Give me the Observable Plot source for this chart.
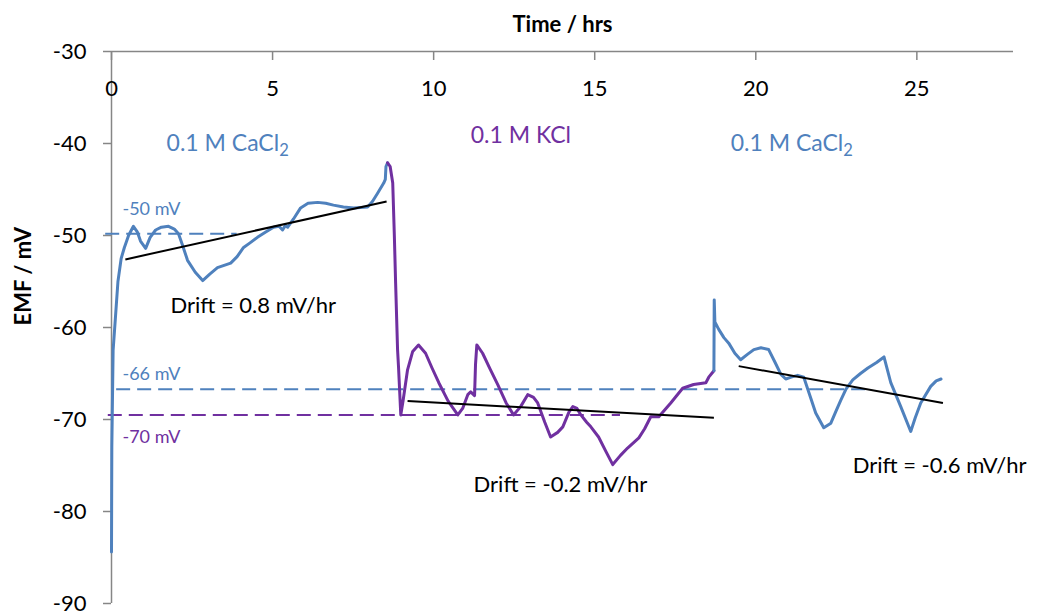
<!DOCTYPE html>
<html>
<head>
<meta charset="utf-8">
<script src="https://cdn.jsdelivr.net/npm/d3@7"></script>
<script src="https://cdn.jsdelivr.net/npm/@observablehq/plot@0.6"></script>
<style>
  html, body { margin: 0; padding: 0; background: #fff; }
  #chart svg { font-family: Lato, "Open Sans", sans-serif; }
</style>
</head>
<body>
<div id="chart"></div>
<script>
// ---- data ----
const xTicks = [0, 5, 10, 15, 20, 25];
const yTicks = [-30, -40, -50, -60, -70, -80, -90];

// 0.1 M CaCl2 (first period): [time hrs, EMF mV]
const cacl2First = [
  [0,-84.4],[0.01,-73],[0.05,-62.5],[0.12,-59],[0.2,-55],[0.3,-52.5],[0.4,-51.3],[0.53,-50],
  [0.68,-49],[0.8,-49.6],[0.9,-50.6],[1.06,-51.4],[1.2,-50.2],[1.37,-49.4],[1.55,-49.1],[1.77,-49],
  [1.95,-49.3],[2.08,-49.8],[2.2,-51],[2.36,-52.7],[2.6,-54],[2.83,-54.9],[3.05,-54.2],[3.29,-53.5],
  [3.7,-53],[3.9,-52.3],[4.1,-51.3],[4.3,-50.8],[4.53,-50.2],[4.8,-49.6],[5.03,-49.1],[5.2,-49],
  [5.31,-49.4],[5.4,-48.9],[5.47,-49.1],[5.65,-48.2],[5.87,-47],[6.1,-46.5],[6.4,-46.4],[6.65,-46.5],
  [6.89,-46.7],[7.2,-46.9],[7.52,-47],[7.95,-46.9],[8.1,-46.3],[8.26,-45.4],[8.45,-44.3],[8.5,-43.9],
  [8.52,-42.5],[8.57,-42.1]
];
// 0.1 M KCl
const kcl = [
  [8.57,-42.1],[8.65,-42.5],[8.73,-44.3],[8.78,-50],[8.82,-55.2],[8.88,-62.4],[8.91,-64.3],[8.98,-69.5],
  [9.05,-68],[9.19,-64.6],[9.35,-62.6],[9.53,-61.9],[9.75,-62.8],[9.95,-64.4],[10.16,-66],[10.45,-68],
  [10.75,-69.5],[10.9,-68.8],[11.06,-67.3],[11.15,-67.0],[11.27,-67.4],[11.3,-64],[11.34,-61.9],[11.52,-62.8],
  [11.75,-64.5],[11.99,-66.2],[12.25,-68.2],[12.48,-69.5],[12.7,-68.6],[12.92,-67.3],[13.1,-67.6],[13.23,-68.2],
  [13.45,-70.3],[13.63,-71.9],[13.85,-71.4],[14.01,-70.8],[14.2,-69.2],[14.32,-68.6],[14.45,-68.8],[14.57,-69.5],
  [14.75,-70.3],[14.88,-70.8],[15.12,-71.9],[15.35,-73.5],[15.56,-74.9],[15.8,-73.9],[16.02,-73.1],[16.37,-72],
  [16.55,-71],[16.74,-69.7],[16.99,-69.7],[17.36,-68.2],[17.73,-66.6],[18.07,-66.2],[18.45,-66],[18.54,-65.4],
  [18.7,-64.7]
];
// 0.1 M CaCl2 (second period)
const cacl2Second = [
  [18.7,-64.7],[18.71,-57.0],[18.73,-59.4],[18.85,-60.2],[19.01,-61.1],[19.16,-61.7],[19.35,-62.8],[19.53,-63.5],
  [19.75,-62.9],[19.94,-62.4],[20.16,-62.2],[20.4,-62.4],[20.6,-63.8],[20.78,-65.1],[20.93,-65.6],[21.1,-65.4],
  [21.3,-65.2],[21.49,-65.4],[21.7,-67.6],[21.86,-69.3],[22.11,-70.9],[22.33,-70.4],[22.5,-69],[22.64,-67.9],
  [22.8,-66.7],[23.01,-65.7],[23.25,-65],[23.48,-64.4],[23.75,-63.8],[23.98,-63.2],[24.19,-66],[24.5,-68.6],
  [24.81,-71.3],[24.95,-69.8],[25.12,-68.2],[25.43,-66.4],[25.6,-65.8],[25.75,-65.6]
];

// drift trend lines: [x1, y1, x2, y2]
const driftLines = [
  [0.43, -52.6, 8.54, -46.3],
  [9.19, -68.0, 18.70, -69.8],
  [19.47, -64.2, 25.81, -68.2]
];
// reference (dashed) levels: [x1, x2, level, series]
const refLevels = [
  [-0.18, 3.9, -49.8, "CaCl2"],
  [0.16, 23.6, -66.7, "CaCl2"],
  [-0.1, 15.8, -69.5, "KCl"]
];
const refLabels = [
  [0.34, -47.1, "-50 mV", "CaCl2"],
  [0.34, -65.1, "-66 mV", "CaCl2"],
  [0.34, -71.9, "-70 mV", "KCl"]
];
const solutionLabels = [
  [1.71, -40.0, "0.1 M CaCl₂", "CaCl2"],
  [11.15, -39.1, "0.1 M KCl", "KCl"],
  [19.22, -40.0, "0.1 M CaCl₂", "CaCl2"]
];
const driftLabels = [
  [1.83, -57.7, "Drift = 0.8 mV/hr"],
  [11.24, -77.1, "Drift = -0.2 mV/hr"],
  [23.01, -75.1, "Drift = -0.6 mV/hr"]
];

// ---- styles ----
const BLUE = "#4F81BD";
const PURPLE = "#7030A0";
const AXIS = "#868686";
const colorOf = s => s === "KCl" ? PURPLE : BLUE;

const chart = Plot.plot({
  width: 1054,
  height: 615,
  marginLeft: 111,
  marginTop: 51,
  marginRight: 41,
  marginBottom: 12,
  x: {domain: [0, 28]},
  y: {domain: [-90, -30]},
  style: {fontFamily: "Lato, 'Open Sans', sans-serif", background: "#fff"},
  marks: [
    // axis lines
    Plot.ruleX([0], {stroke: AXIS, strokeWidth: 1.5}),
    Plot.ruleY([-30], {stroke: AXIS, strokeWidth: 1.5}),
    Plot.axisY({anchor: "left", ticks: yTicks, tickFormat: d => String(d), tickSize: 8, tickPadding: 17, fontSize: 22, label: null, stroke: AXIS, strokeWidth: 1.5, color: "#000"}),
    Plot.axisX({anchor: "top", ticks: xTicks, tickFormat: d => String(d), tickSize: 8, dy: 8, tickPadding: -44, fontSize: 22, label: null, stroke: AXIS, strokeWidth: 1.5}),
    // axis titles
    Plot.text(["Time / hrs"], {frameAnchor: "top", dy: -35, fontSize: 22, fontWeight: "bold", fill: "#000"}),
    Plot.text(["EMF / mV"], {frameAnchor: "left", dx: -88, dy: -2, rotate: -90, fontSize: 22, fontWeight: "bold", fill: "#000"}),
    // dashed reference levels
    Plot.ruleY(refLevels, {x1: d => d[0], x2: d => d[1], y: d => d[2], stroke: d => colorOf(d[3]), strokeWidth: 2, strokeDasharray: "14,7"}),
    Plot.text(refLabels, {x: d => d[0], y: d => d[1], text: d => d[2], fill: d => colorOf(d[3]), textAnchor: "start", fontSize: 18}),
    // EMF series
    Plot.line(cacl2First, {x: d => d[0], y: d => d[1], stroke: BLUE, strokeWidth: 3}),
    Plot.line(kcl, {x: d => d[0], y: d => d[1], stroke: PURPLE, strokeWidth: 3}),
    Plot.line(cacl2Second, {x: d => d[0], y: d => d[1], stroke: BLUE, strokeWidth: 3}),
    // drift lines
    Plot.link(driftLines, {x1: d => d[0], y1: d => d[1], x2: d => d[2], y2: d => d[3], stroke: "#000", strokeWidth: 2}),
    // labels
    Plot.text(solutionLabels, {x: d => d[0], y: d => d[1], text: d => d[2], fill: d => colorOf(d[3]), textAnchor: "start", fontSize: 23}),
    Plot.text(driftLabels, {x: d => d[0], y: d => d[1], text: d => d[2], fill: "#000", textAnchor: "start", fontSize: 22})
  ]
});

// render the chemical subscript as a real subscript tspan
d3.select(chart).selectAll("text").each(function () {
  const t = this.textContent;
  if (t.includes("₂")) {
    const el = d3.select(this);
    el.text(null);
    el.append("tspan").text(t.replace("₂", ""));
    el.append("tspan").attr("dy", "0.3em").attr("font-size", "0.72em").text("2");
  }
});

document.getElementById("chart").appendChild(chart);
</script>
</body>
</html>
